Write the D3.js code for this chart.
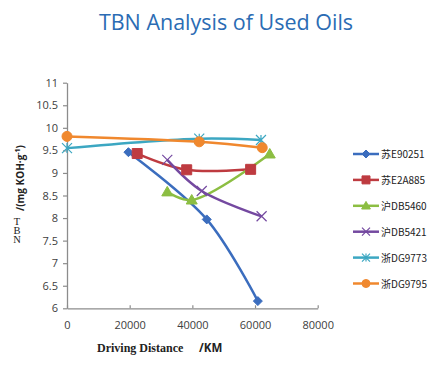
<!DOCTYPE html>
<html><head><meta charset="utf-8">
<script src="https://cdn.jsdelivr.net/npm/d3@7"></script>
<style>body{margin:0;background:#fff}</style>
</head><body>
<script>
const seriesNames = ["苏E90251","苏E2A885","沪DB5460","沪DB5421","浙DG9773","浙DG9795"];
const s1 = [[19600,9.46],[44600,7.97],[60900,6.16]];
const s2 = [[22400,9.43],[38200,9.07],[58600,9.08]];
const s3 = [[32000,8.58],[39800,8.40],[64700,9.42]];
const s4 = [[32000,9.29],[43000,8.60],[62100,8.04]];
const s5 = [[0,9.55],[42200,9.76],[61900,9.73]];
const s6 = [[0,9.81],[42200,9.69],[62300,9.56]];
const seriesData = [s1,s2,s3,s4,s5,s6];
const colors = ["#3B6DBE","#BE3B40","#8CBE42","#7449A0","#3CA7C2","#F0882E"];
const markers = ["diamond","square","triangle","x","asterisk","circle"];
const xTicks = [0,20000,40000,60000,80000];
const yTicks = [6,6.5,7,7.5,8,8.5,9,9.5,10,10.5,11];

const W=443,H=366;
const svg=d3.select("body").append("svg").attr("width",W).attr("height",H);
const x=d3.scaleLinear().domain([0,80000]).range([67,317.7]);
const y=d3.scaleLinear().domain([6,11]).range([308.3,82.7]);

svg.append("text").attr("x",226).attr("y",30).attr("text-anchor","middle")
  .attr("font-family","Open Sans").attr("font-size",21.5).attr("fill","#2B6CB4")
  .text("TBN Analysis of Used Oils");

const axisCol="#8c8c8c", tickText="#404040";
const gx=svg.append("g").attr("transform","translate(0,308.3)")
  .call(d3.axisBottom(x).tickValues(xTicks).tickSizeInner(-3).tickSizeOuter(0).tickFormat(d3.format("d")).tickPadding(13));
const gy=svg.append("g").attr("transform","translate(67,0)")
  .call(d3.axisLeft(y).tickValues(yTicks).tickSizeInner(4).tickSizeOuter(0).tickFormat(d=>d).tickPadding(5));
[gx,gy].forEach(g=>{
  g.select(".domain").attr("stroke",axisCol).attr("stroke-width",1.3);
  g.selectAll(".tick line").attr("stroke",axisCol).attr("stroke-width",1.2);
  g.selectAll(".tick text").attr("font-family","Open Sans").attr("font-size",11).attr("fill",tickText);
});

function markerPath(type,s){
  switch(type){
    case "diamond": return `M0,${-s}L${s},0L0,${s}L${-s},0Z`;
    case "square": return `M${-s},${-s}H${s}V${s}H${-s}Z`;
    case "triangle": return `M0,${-s*1.1}L${s*1.1},${s*0.8}L${-s*1.1},${s*0.8}Z`;
    case "x": return `M${-s},${-s}L${s},${s}M${-s},${s}L${s},${-s}`;
    case "asterisk": return `M${-s},${-s}L${s},${s}M${-s},${s}L${s},${-s}M0,${-s}V${s}`;
    case "circle": return `M${s},0A${s},${s} 0 1,1 ${-s},0A${s},${s} 0 1,1 ${s},0Z`;
  }
}
function drawMarker(g,type,color,cx,cy,size){
  const open = type==="x"||type==="asterisk";
  g.append("path").attr("d",markerPath(type,size)).attr("transform",`translate(${cx},${cy})`)
    .attr("fill",open?"none":color).attr("stroke",color).attr("stroke-width",open?1.2:1);
}

const line=d3.line().x(d=>x(d[0])).y(d=>y(d[1])).curve(d3.curveCatmullRom.alpha(0.5));
const plot=svg.append("g");
seriesData.forEach((data,i)=>{
  plot.append("path").datum(data).attr("d",line).attr("fill","none")
    .attr("stroke",colors[i]).attr("stroke-width",2.5);
});
seriesData.forEach((data,i)=>{
  const sz = markers[i]==="diamond"?4.5:5;
  data.forEach(d=>drawMarker(plot,markers[i],colors[i],x(d[0]),y(d[1]),sz));
});

// legend
const lg=svg.append("g");
seriesNames.forEach((n,i)=>{
  const ly=154+i*25.9;
  lg.append("line").attr("x1",353).attr("x2",379).attr("y1",ly).attr("y2",ly)
    .attr("stroke",colors[i]).attr("stroke-width",2.5);
  drawMarker(lg,markers[i],colors[i],366,ly,4);
  lg.append("text").attr("x",381).attr("y",ly+4).attr("font-family","Noto Sans CJK SC, Open Sans")
    .attr("font-size",10).attr("fill","#222").text(n);
});

// axis titles
svg.append("text").attr("transform","translate(24,211) rotate(-90)")
  .attr("font-family","Open Sans").attr("font-weight","bold").attr("font-size",10).attr("fill","#222")
  .html('/(mg KOH·g<tspan dy="-4" font-size="7">-1</tspan><tspan dy="4">)</tspan>');
svg.append("text").attr("x",17).attr("y",216)
  .style("writing-mode","vertical-rl").style("text-orientation","upright")
  .style("letter-spacing","-2.2px")
  .attr("font-family","Liberation Serif").attr("font-size",10.5).attr("fill","#222").text("TBN");
svg.append("text").attr("x",97).attr("y",352).attr("font-family","Liberation Serif")
  .attr("font-weight","bold").attr("font-size",12).attr("fill","#222").text("Driving Distance");
svg.append("text").attr("x",199).attr("y",352).attr("font-family","Open Sans")
  .attr("font-weight","bold").attr("font-size",11.5).attr("fill","#222").text("/KM");
</script>
</body></html>
